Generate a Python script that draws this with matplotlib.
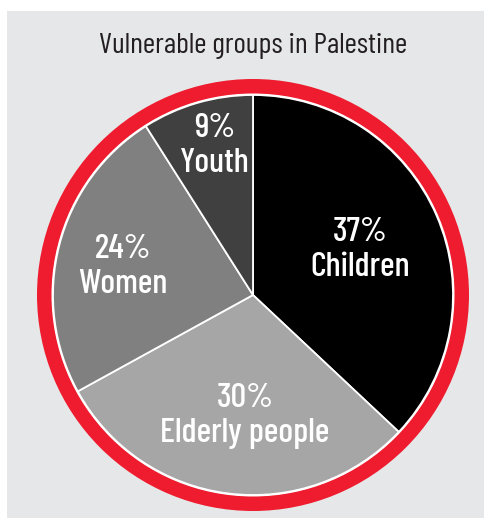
import matplotlib.pyplot as plt
from matplotlib.patches import Rectangle, Circle

groups = ['Children', 'Elderly people', 'Women', 'Youth']
shares = [37, 30, 24, 9]
colors = ['#000000', '#a6a6a6', '#808080', '#404040']

W, H = 484, 518
fig = plt.figure(figsize=(W / 100, H / 100), dpi=100)
ax = fig.add_axes([0, 0, 1, 1])

font = ['Barlow Condensed', 'DejaVu Sans']

# grey panel
ax.add_patch(Rectangle((7, 0), W - 7, H - 11, facecolor='#e6e7e8', edgecolor='none', zorder=0))

cx, cy = 253, H - 295
# red ring behind the pie
ax.add_patch(Circle((cx, cy), 216, facecolor='#ee1c2e', edgecolor='none', zorder=1))
ax.add_patch(Circle((cx, cy), 201.5, facecolor='white', edgecolor='none', zorder=1))

wedges, _ = ax.pie(shares, colors=colors, startangle=90, counterclock=False,
                   center=(cx, cy), radius=200, frame=True,
                   wedgeprops=dict(edgecolor='white', linewidth=1.3, zorder=2))
ax.set_xlim(0, W)
ax.set_ylim(0, H)
ax.set_aspect('equal')
ax.axis('off')

# label spots (image pixels)
label_pos = [(360, 250), (245, 416), (123, 267), (215, 146)]
for g, s, (x, y) in zip(groups, shares, label_pos):
    ax.text(x, H - y, '%d%%\n%s' % (s, g), ha='center', va='center', color='white',
            fontsize=25, family=font, weight=500, linespacing=1.2, zorder=3)

ax.text(253, H - 46, 'Vulnerable groups in Palestine', ha='center', va='center',
        color='#231f20', fontsize=21.5, family=font, weight=400, zorder=3)

fig.savefig('out.png', dpi=100)
